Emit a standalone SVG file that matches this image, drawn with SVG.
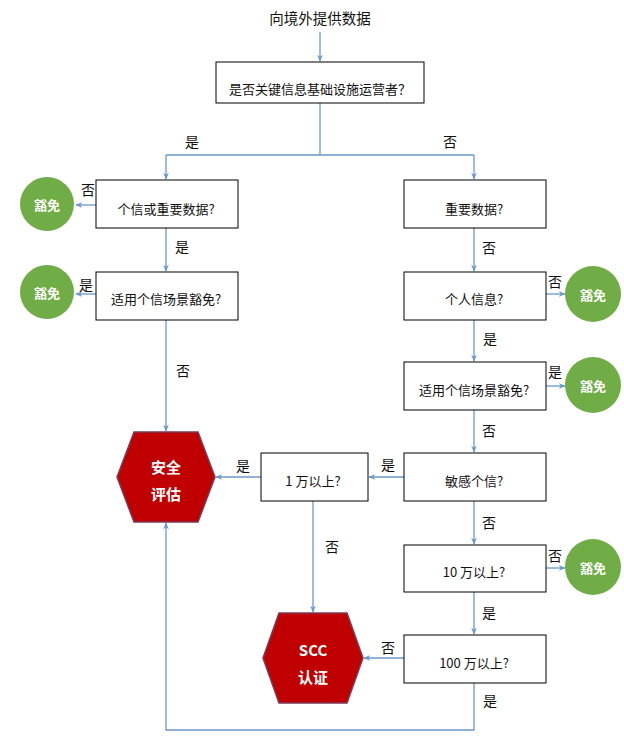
<svg xmlns="http://www.w3.org/2000/svg" width="624" height="736" viewBox="0 0 624 736">
<style>
text{font-family:"Noto Sans CJK SC","Microsoft YaHei",sans-serif;dominant-baseline:central;text-anchor:middle}
.box{fill:#fff;stroke:#000;stroke-width:1}
.bt{font-size:13px;fill:#111}
.lb{font-size:14px;fill:#111}
.cir{fill:#70ad47}
.ct{font-size:13px;font-weight:bold;fill:#fff}
.hex{fill:#c00000;stroke:#7a3b55;stroke-width:1.5}
.ht{font-size:15px;font-weight:bold;fill:#fff}
.ln{fill:none;stroke:#6a98c8;stroke-width:1.3}
</style>
<defs>
<marker id="ah" viewBox="0 0 10 10" refX="9" refY="5" markerWidth="7" markerHeight="7" orient="auto" markerUnits="userSpaceOnUse">
<path d="M0,1 L10,5 L0,9 L3,5 Z" fill="#6a98c8"/>
</marker>
</defs>
<rect width="624" height="736" fill="#fff"/>
<g id="connectors">
<path class="ln" d="M320 32 V61" marker-end="url(#ah)"/>
<path class="ln" d="M320 103 V155 M166 155 H474"/>
<path class="ln" d="M166 155 V179" marker-end="url(#ah)"/>
<path class="ln" d="M474 155 V179" marker-end="url(#ah)"/>
<path class="ln" d="M96 205 H76" marker-end="url(#ah)"/>
<path class="ln" d="M166 228 V271" marker-end="url(#ah)"/>
<path class="ln" d="M96 294 H76" marker-end="url(#ah)"/>
<path class="ln" d="M166 320 V431" marker-end="url(#ah)"/>
<path class="ln" d="M474 228 V271" marker-end="url(#ah)"/>
<path class="ln" d="M546 294 H565" marker-end="url(#ah)"/>
<path class="ln" d="M474 320 V361" marker-end="url(#ah)"/>
<path class="ln" d="M546 386 H565" marker-end="url(#ah)"/>
<path class="ln" d="M474 410 V452" marker-end="url(#ah)"/>
<path class="ln" d="M404 477 H369" marker-end="url(#ah)"/>
<path class="ln" d="M261 477 H216" marker-end="url(#ah)"/>
<path class="ln" d="M313 501 V612" marker-end="url(#ah)"/>
<path class="ln" d="M474 501 V544" marker-end="url(#ah)"/>
<path class="ln" d="M546 568 H565" marker-end="url(#ah)"/>
<path class="ln" d="M474 592 V634" marker-end="url(#ah)"/>
<path class="ln" d="M404 658 H364" marker-end="url(#ah)"/>
<path class="ln" d="M474 683 V730 H166 V523" marker-end="url(#ah)"/>
<text class="lb" x="192" y="141">是</text>
<text class="lb" x="450" y="141">否</text>
<text class="lb" x="88" y="189">否</text>
<text class="lb" x="182" y="246">是</text>
<text class="lb" x="86" y="284">是</text>
<text class="lb" x="183" y="370">否</text>
<text class="lb" x="489" y="247">否</text>
<text class="lb" x="555" y="281">否</text>
<text class="lb" x="490" y="338">是</text>
<text class="lb" x="555" y="371">是</text>
<text class="lb" x="489" y="430">否</text>
<text class="lb" x="388" y="464">是</text>
<text class="lb" x="243" y="465">是</text>
<text class="lb" x="332" y="546">否</text>
<text class="lb" x="489" y="522">否</text>
<text class="lb" x="555" y="555">否</text>
<text class="lb" x="489" y="612">是</text>
<text class="lb" x="388" y="647">否</text>
<text class="lb" x="490" y="700">是</text>
</g>
<g id="start"><text x="320" y="17" style="font-size:14.5px;fill:#111">向境外提供数据</text></g>
<g id="q-ciio"><rect class="box" x="216" y="62" width="208" height="41"/><text class="bt" x="320" y="88">是否关键信息基础设施运营者？</text></g>
<g id="q-left1"><rect class="box" x="96" y="180" width="142" height="48"/><text class="bt" x="166" y="208">个信或重要数据?</text></g>
<g id="q-left2"><rect class="box" x="96" y="272" width="142" height="48"/><text class="bt" x="166" y="298">适用个信场景豁免?</text></g>
<g id="ex-left1"><circle class="cir" cx="47" cy="204" r="27"/><text class="ct" x="47" y="204">豁免</text></g>
<g id="ex-left2"><circle class="cir" cx="47" cy="292" r="27"/><text class="ct" x="47" y="292">豁免</text></g>
<g id="q-important"><rect class="box" x="404" y="180" width="142" height="48"/><text class="bt" x="474" y="208">重要数据?</text></g>
<g id="q-personal"><rect class="box" x="404" y="272" width="142" height="48"/><text class="bt" x="474" y="298">个人信息?</text></g>
<g id="ex-right1"><circle class="cir" cx="593" cy="294" r="28"/><text class="ct" x="593" y="294">豁免</text></g>
<g id="q-scene"><rect class="box" x="404" y="362" width="142" height="48"/><text class="bt" x="474" y="389">适用个信场景豁免?</text></g>
<g id="ex-right2"><circle class="cir" cx="593" cy="385" r="28"/><text class="ct" x="593" y="385">豁免</text></g>
<g id="q-sensitive"><rect class="box" x="404" y="453" width="142" height="48"/><text class="bt" x="474" y="480">敏感个信?</text></g>
<g id="q-10k"><rect class="box" x="261" y="453" width="107" height="48"/><text class="bt" x="313" y="480">1 万以上?</text></g>
<g id="q-100k"><rect class="box" x="404" y="545" width="142" height="47"/><text class="bt" x="474" y="571">10 万以上?</text></g>
<g id="ex-right3"><circle class="cir" cx="593" cy="567" r="28"/><text class="ct" x="593" y="567">豁免</text></g>
<g id="q-1m"><rect class="box" x="404" y="635" width="142" height="48"/><text class="bt" x="474" y="662">100 万以上?</text></g>
<g id="assessment"><polygon class="hex" points="117,477 134,432 198,432 215,477 198,522 134,522"/><text class="ht" x="166" y="466">安全</text><text class="ht" x="166" y="493">评估</text></g>
<g id="scc"><polygon class="hex" points="263,658 279,613 347,613 363,658 347,703 279,703"/><text class="ht" x="313" y="649">SCC</text><text class="ht" x="313" y="676">认证</text></g>
</svg>
